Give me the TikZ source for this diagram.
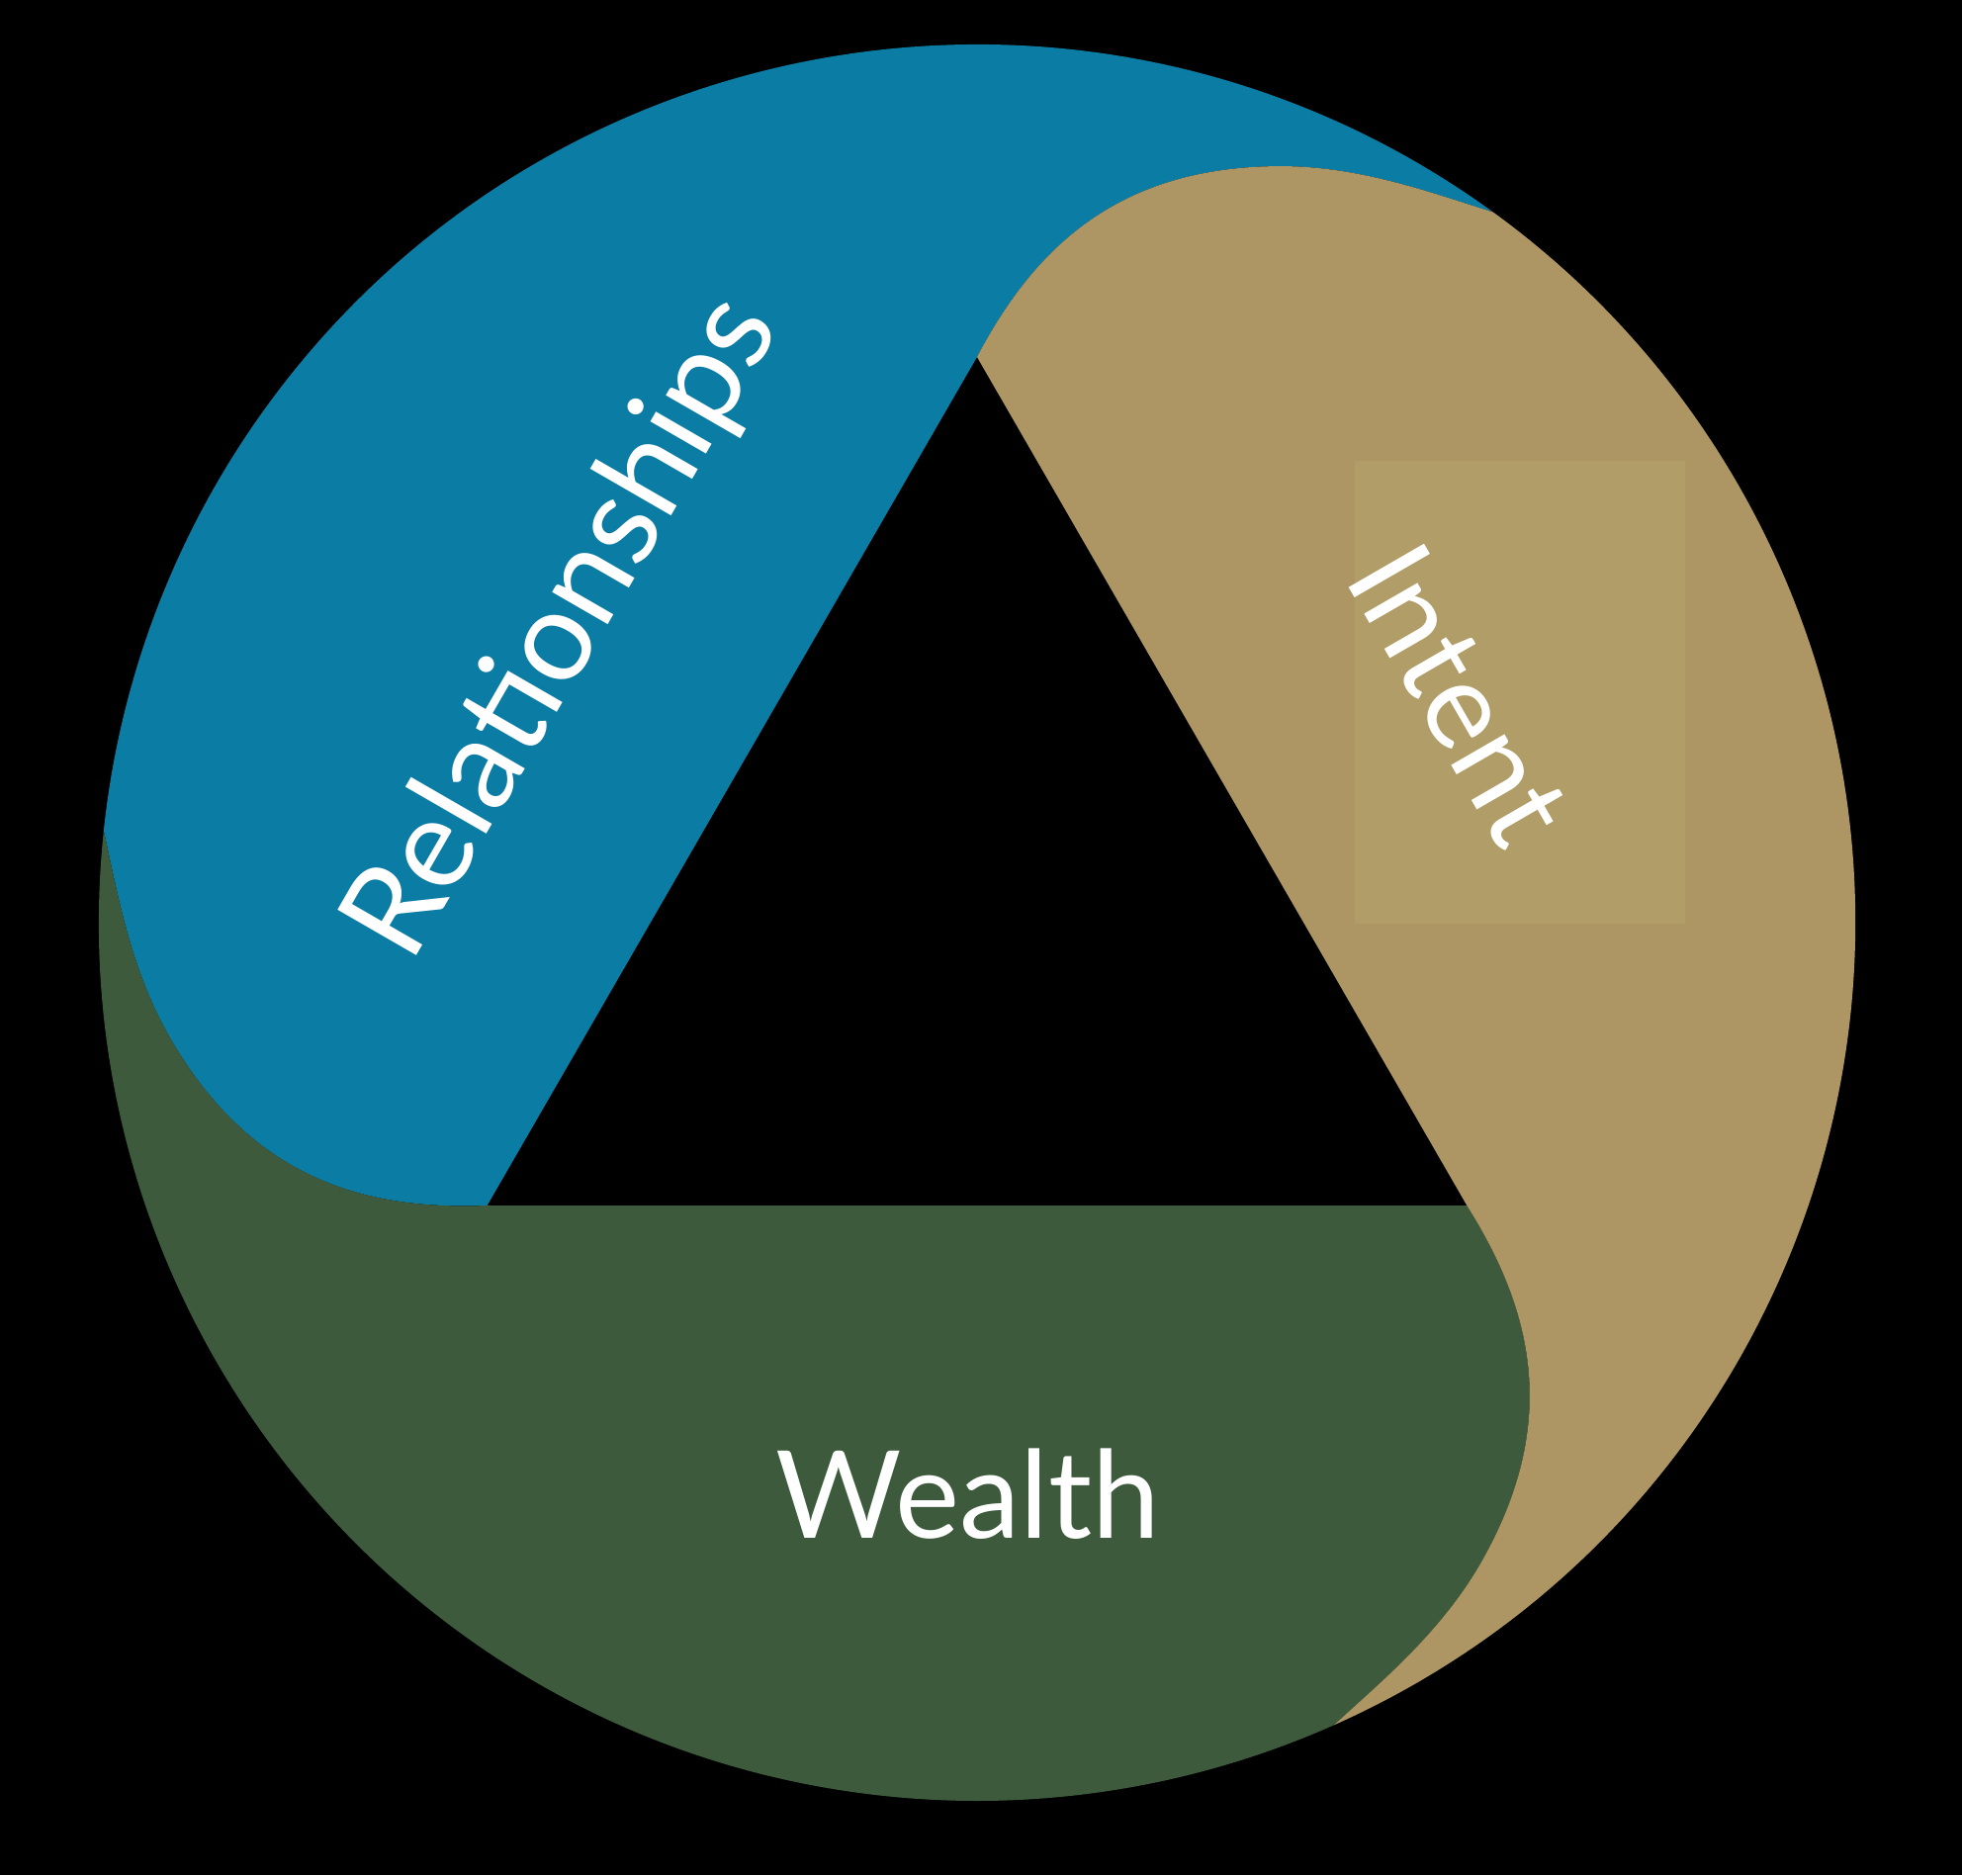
\documentclass[tikz,border=0pt]{standalone}
\usepackage{fontspec}
\setmainfont{Lato}
\definecolor{relblue}{RGB}{11,125,164}
\definecolor{wlthgreen}{RGB}{61,91,60}
\definecolor{inttan}{RGB}{174,150,100}
\definecolor{inttanlt}{RGB}{176,157,103}
\tikzset{lbl/.style={text=white,font=\fontsize{35}{40}\selectfont,inner sep=0pt}}
\begin{document}
\begin{tikzpicture}[x=0.01cm,y=0.01cm]
\fill[black](-988,-963)rectangle(996,933);\useasboundingbox(-988,-963)rectangle(996,933);
% three bands, each one turned by 120 degrees
\foreach\a/\c in {0/relblue,120/wlthgreen,240/inttan}{\pgfmathsetmacro\b{\a+120}\pgfmathsetmacro\s{54+\a}\pgfmathsetmacro\e{54+\b}
\fill[\c](90+\a:572)..controls(85.3+\a:680)and(79.7+\a:778)..(68+\a:825)..controls(63+\a:858)and(57.9+\a:870)..(\s:888)
 arc[start angle=\s,end angle=\e,radius=888]..controls(57.9+\b:870)and(63+\b:858)..(68+\b:825)..controls(79.7+\b:778)and(85.3+\b:680)..(90+\b:572)--cycle;}
\fill[inttanlt](382,-1)rectangle(716,467);
\node[lbl,rotate=60,font=\fontsize{36.5}{40}\selectfont](rel)at(-417,298){Relationships};
\node[lbl,rotate=-60](intent)at(489,231){Intent};
\node[lbl](wealth)at(-9,-578){Wealth};
\end{tikzpicture}
\end{document}
